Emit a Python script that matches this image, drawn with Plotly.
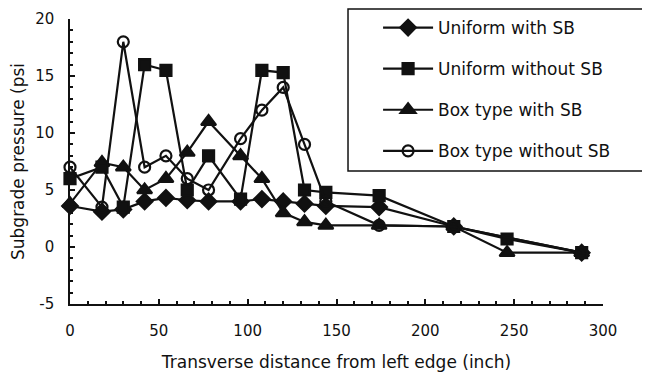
import plotly.graph_objects as go

# Transverse positions (inch)
x_uws = [0, 18, 30, 42, 54, 66, 78, 96, 108, 120, 132, 144, 174, 216, 288]
y_uws = [3.6, 3.1, 3.3, 4.0, 4.3, 4.1, 4.0, 4.0, 4.2, 4.0, 3.8, 3.6, 3.5, 1.8, -0.5]

x_uwo = [0, 18, 30, 42, 54, 66, 78, 96, 108, 120, 132, 144, 174, 216, 246, 288]
y_uwo = [6.0, 7.0, 3.5, 16.0, 15.5, 5.0, 8.0, 4.2, 15.5, 15.3, 5.0, 4.8, 4.5, 1.8, 0.7, -0.5]

x_bws = [0, 18, 30, 42, 54, 66, 78, 96, 108, 120, 132, 144, 174, 216, 246, 288]
y_bws = [3.8, 7.4, 7.0, 5.0, 6.0, 8.3, 11.0, 8.0, 6.0, 3.0, 2.2, 1.9, 1.9, 1.8, -0.5, -0.5]

x_bwo = [0, 18, 30, 42, 54, 66, 78, 96, 108, 120, 132, 144, 174, 216, 288]
y_bwo = [7.0, 3.5, 18.0, 7.0, 8.0, 6.0, 5.0, 9.5, 12.0, 14.0, 9.0, 4.0, 1.9, 1.8, -0.5]

names = ["Uniform with SB", "Uniform without SB", "Box type with SB", "Box type without SB"]

x_ticks = [0, 50, 100, 150, 200, 250, 300]
y_ticks = [-5, 0, 5, 10, 15, 20]
y_ticktext = ["-5", "0", "5", "10", "15", "20"]

FONT = "DejaVu Sans, Arial, sans-serif"
INK = "#111111"

fig = go.Figure()
series = [
    (x_uws, y_uws, "diamond", 12),
    (x_uwo, y_uwo, "square", 11),
    (x_bws, y_bws, "triangle-up", 13),
    (x_bwo, y_bwo, "circle-open", 11),
]
for i, (xs, ys, sym, sz) in enumerate(series):
    fig.add_trace(go.Scatter(
        x=xs, y=ys, mode="lines+markers", name=names[i],
        legendgroup=f"g{i}",
        line=dict(color=INK, width=2.2),
        marker=dict(symbol=sym, size=sz, color=INK,
                    line=dict(color=INK, width=2.2)),
        cliponaxis=False,
    ))

# legend frame
fig.add_shape(type="rect", xref="paper", yref="paper",
              x0=0.5216, x1=1.0788, y0=0.4667, y1=1.035,
              line=dict(color=INK, width=1.5), fillcolor="white", layer="below")

# page body has an 8px default margin, so the figure is 8px smaller than the window
fig.update_layout(
    width=642, height=366,
    margin=dict(l=62, r=47, t=11, b=70, autoexpand=False),
    paper_bgcolor="white", plot_bgcolor="white",
    font=dict(family=FONT, size=15, color=INK),
    showlegend=True,
    legend=dict(x=0.578, y=1.0316, xanchor="left", yanchor="top",
                bgcolor="rgba(0,0,0,0)", borderwidth=0,
                font=dict(size=17, family=FONT, color=INK),
                tracegroupgap=16, itemwidth=50),
    xaxis=dict(range=[0, 300], tickvals=x_ticks,
               automargin=False,
               showgrid=False, zeroline=False, showline=True,
               linecolor=INK, linewidth=1.5, ticks="inside", ticklen=5,
               tickcolor=INK, tickwidth=1.5, ticklabelstandoff=12,
               minor=dict(dtick=10, ticks="inside", ticklen=3, tickcolor=INK),
               title=dict(text="Transverse distance from left edge (inch)",
                          font=dict(size=17), standoff=17)),
    yaxis=dict(range=[-5, 20], tickvals=y_ticks, ticktext=y_ticktext,
               automargin=False,
               showgrid=False, zeroline=False, showline=True,
               linecolor=INK, linewidth=1.5, ticks="inside", ticklen=5,
               tickcolor=INK, tickwidth=1.5, ticklabelstandoff=11,
               minor=dict(dtick=1, ticks="inside", ticklen=3, tickcolor=INK),
               title=dict(text="Subgrade pressure (psi", font=dict(size=17),
                          standoff=6)),
)

fig.write_html("out.html")
